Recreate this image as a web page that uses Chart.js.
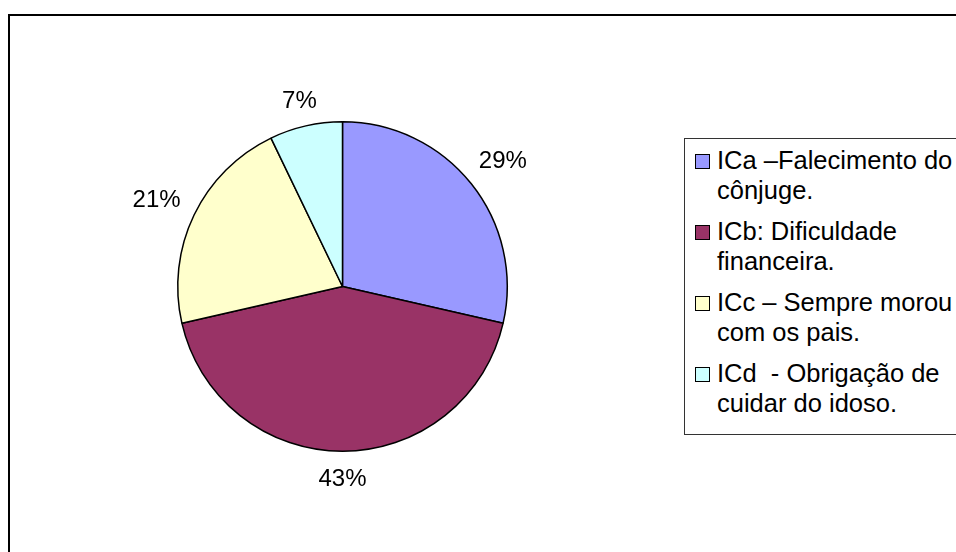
<!DOCTYPE html>
<html>
<head>
<meta charset="utf-8">
<script src="https://cdn.jsdelivr.net/npm/chart.js@4/dist/chart.umd.min.js"></script>
<style>
  html, body { margin: 0; padding: 0; background: #fff; }
  #wrap { position: relative; width: 956px; height: 552px; overflow: hidden; font-family: "Liberation Sans", Arial, sans-serif; }
  #frame { position: absolute; left: 8px; top: 14px; width: 1000px; height: 600px; border-left: 2px solid #000; border-top: 2px solid #000; box-sizing: border-box; }
  #chart { position: absolute; left: 0; top: 0; }
  #legend { position: absolute; left: 684px; top: 138px; width: 320px; height: 297px; border: 1px solid #333; box-sizing: border-box; background: #fff; padding-top: 6px; }
  .item { position: relative; padding-left: 32px; font-size: 25.5px; line-height: 30px; color: #000; white-space: pre; margin-bottom: 11px; }
  .box { position: absolute; left: 10px; top: 9px; width: 15px; height: 15px; border: 1.5px solid #000; box-sizing: border-box; }
</style>
</head>
<body>
<div id="wrap">
  <div id="frame"></div>
  <canvas id="chart" width="956" height="552"></canvas>
  <div id="legend"></div>
</div>
<script>
document.addEventListener("DOMContentLoaded", function() {
  // categorias (legenda em duas linhas cada)
  const labels = [
    ['ICa –Falecimento do', 'cônjuge.'],
    ['ICb: Dificuldade', 'financeira.'],
    ['ICc – Sempre morou', 'com os pais.'],
    ['ICd  - Obrigação de', 'cuidar do idoso.']
  ];
  // contagens: 29% 43% 21% 7% = 4, 6, 3, 1 de 14
  const values = [4, 6, 3, 1];
  const colors = ['#9999FF', '#993366', '#FFFFCC', '#CCFFFF'];

  // rótulos de porcentagem fora das fatias
  const outsideLabels = {
    id: 'outsideLabels',
    afterDatasetsDraw(chart) {
      const ctx = chart.ctx;
      const meta = chart.getDatasetMeta(0);
      const data = chart.data.datasets[0].data;
      const total = data.reduce((a, b) => a + b, 0);
      ctx.save();
      ctx.font = '24px "Liberation Sans", Arial, sans-serif';
      ctx.fillStyle = '#000';
      ctx.textAlign = 'center';
      ctx.textBaseline = 'middle';
      meta.data.forEach(function(arc, i) {
        const p = arc.getProps(['x', 'y', 'startAngle', 'endAngle', 'outerRadius'], true);
        const mid = (p.startAngle + p.endAngle) / 2;
        const txt = Math.round(data[i] / total * 100) + '%';
        const w = ctx.measureText(txt).width;
        const h = 18;
        const ext = Math.abs(Math.cos(mid)) * w / 2 + Math.abs(Math.sin(mid)) * h / 2;
        const d = p.outerRadius + 16 + ext;
        ctx.fillText(txt, p.x + Math.cos(mid) * d, p.y + Math.sin(mid) * d + 3);
      });
      ctx.restore();
    }
  };

  const chart = new Chart(document.getElementById('chart').getContext('2d'), {
    type: 'pie',
    data: {
      labels: labels,
      datasets: [{
        data: values,
        backgroundColor: colors,
        borderColor: '#000',
        borderWidth: 1.5
      }]
    },
    options: {
      responsive: false,
      animation: false,
      layout: { padding: { left: 177, right: 448, top: 121, bottom: 100 } },
      plugins: {
        legend: { display: false },
        tooltip: { enabled: false }
      }
    },
    plugins: [outsideLabels]
  });

  // legenda em HTML a partir dos dados do gráfico
  const legend = document.getElementById('legend');
  chart.data.labels.forEach(function(lbl, i) {
    const item = document.createElement('div');
    item.className = 'item';
    const box = document.createElement('span');
    box.className = 'box';
    box.style.background = colors[i];
    item.appendChild(box);
    item.appendChild(document.createTextNode(lbl.join('\n')));
    legend.appendChild(item);
  });
});
</script>
</body>
</html>
